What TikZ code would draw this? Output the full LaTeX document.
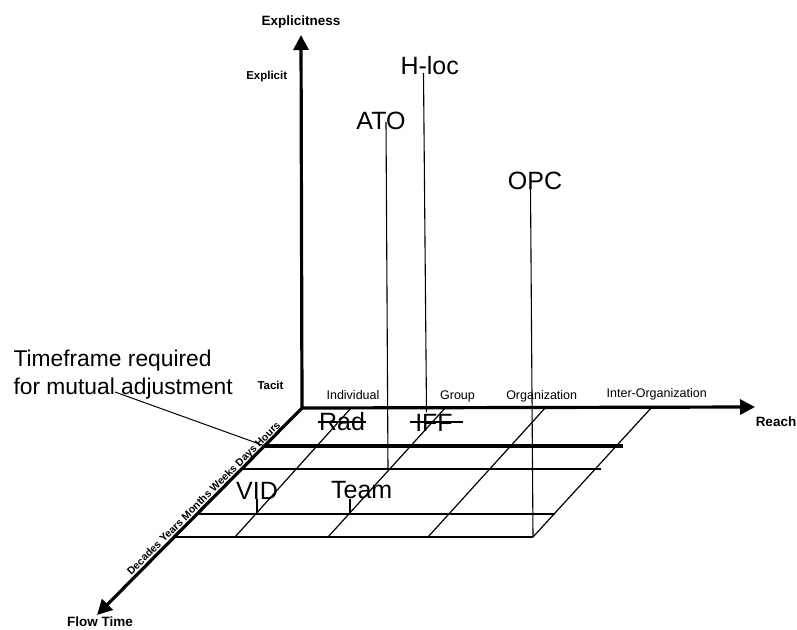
\documentclass[tikz,border=0pt]{standalone}
\usepackage{fontspec}
\setmainfont{Liberation Sans}
\usetikzlibrary{arrows.meta}
\begin{document}
\begin{tikzpicture}[x=1pt,y=-1pt,
  axisline/.style={line width=3.2pt},
  tipA/.style={-{Triangle[length=15pt,width=15pt]}},
  thickgrid/.style={line width=3.4pt},
  gridline/.style={line width=1.2pt},
  dropline/.style={line width=1.1pt},
  strike/.style={line width=1.6pt},
  big/.style={font=\fontsize{25}{30}\selectfont, inner sep=0pt, anchor=base},
  axlabel/.style={font=\fontsize{13.5}{16}\selectfont\bfseries, inner sep=0pt, anchor=base},
  smalllab/.style={font=\fontsize{11.5}{14}\selectfont\bfseries, inner sep=0pt, anchor=base},
  catlab/.style={font=\fontsize{12.5}{15}\selectfont, inner sep=0pt, anchor=base},
  tlabel/.style={font=\fontsize{10.5}{12}\selectfont\bfseries, inner sep=0pt, rotate=45, anchor=center},
]
\useasboundingbox (0,0) rectangle (797,629);

% axes
\coordinate (O) at (302,408);
\coordinate (ytip) at (301,35);
\coordinate (xtip) at (755,407);
\coordinate (ztip) at (97,615);

% grid coordinates
\coordinate (h1a) at (265,446); \coordinate (h1b) at (623,446);
\coordinate (h2a) at (243,469); \coordinate (h2b) at (601,469);
\coordinate (h3a) at (198,514); \coordinate (h3b) at (555,514);
\coordinate (h4a) at (175,537); \coordinate (h4b) at (533,537);
\coordinate (s1a) at (352,407); \coordinate (s1b) at (235,537);
\coordinate (s2a) at (446,407); \coordinate (s2b) at (328,537);
\coordinate (s3a) at (546,407); \coordinate (s3b) at (428,537);
\coordinate (s4a) at (652,407); \coordinate (s4b) at (533,537);

\draw[gridline] (h2a) -- (h2b);
\draw[gridline] (h3a) -- (h3b);
\draw[gridline] (h4a) -- (h4b);
\draw[gridline] (s1a) -- (s1b);
\draw[gridline] (s2a) -- (s2b);
\draw[gridline] (s3a) -- (s3b);
\draw[gridline] (s4a) -- (s4b);
\draw[thickgrid] (h1a) -- (h1b);

\draw[axisline, tipA] (O) -- (ytip);
\draw[axisline, tipA] (O) -- (xtip);
\draw[axisline, tipA] (O) -- (ztip);
\fill (O) circle (1.6pt);

% axis titles
\node[axlabel] (expl) at (301,25.7) {Explicitness};
\node[axlabel] (reach) at (776,426) {Reach};
\node[axlabel] (flow) at (100,626) {Flow Time};

\node[smalllab] (explicit) at (266.7,79.3) {Explicit};
\node[smalllab] (tacit) at (270.5,389) {Tacit};

\node[catlab] (indiv) at (353,399.5) {Individual};
\node[catlab] (group) at (457.5,399.5) {Group};
\node[catlab] (org) at (541.7,399.5) {Organization};
\node[catlab] (interorg) at (656.7,397.5) {Inter-Organization};

% time labels along the flow-time axis
\node[tlabel] (times) at (204.2,498.8) {Decades Years Months Weeks Days Hours};

% big labels
\node[big] (ato) at (381,129) {ATO};
\node[big] (hloc) at (429.7,74.3) {H-loc};
\node[big] (opc) at (535,189.5) {OPC};
\node[big] (vid) at (257,499) {VID};
\node[big] (team) at (361.7,498.3) {Team};
\node[big] (rad) at (342,430) {Rad};
\node[big] (iff) at (434,431) {IFF};

% drop lines
\coordinate (atoT) at (386,122); \coordinate (atoB) at (388,469);
\coordinate (hlocT) at (423.5,73); \coordinate (hlocB) at (426.5,412);
\coordinate (opcT) at (530.5,187); \coordinate (opcB) at (533,537);
\coordinate (vidT) at (257,499); \coordinate (vidB) at (257,514);
\coordinate (teamT) at (350,499); \coordinate (teamB) at (350,514);
\draw[dropline] (atoT) -- (atoB);
\draw[dropline] (hlocT) -- (hlocB);
\draw[dropline] (opcT) -- (opcB);
\draw[dropline] (vidT) -- (vidB);
\draw[dropline] (teamT) -- (teamB);

% strike lines through Rad and IFF
\coordinate (radL) at (318,422); \coordinate (radR) at (366,422);
\coordinate (iffL) at (410,422); \coordinate (iffR) at (463,422);
\draw[strike] (radL) -- (radR);
\draw[strike] (iffL) -- (iffR);

% annotation
\node[font=\fontsize{22.8}{27.7}\selectfont, align=left, anchor=north west, inner sep=0pt] (tf) at (13.3,350.2) {Timeframe required\\for mutual adjustment};
\coordinate (tfL) at (115,392);
\draw[line width=1pt] (tfL) -- (h1a);
\end{tikzpicture}
\end{document}
